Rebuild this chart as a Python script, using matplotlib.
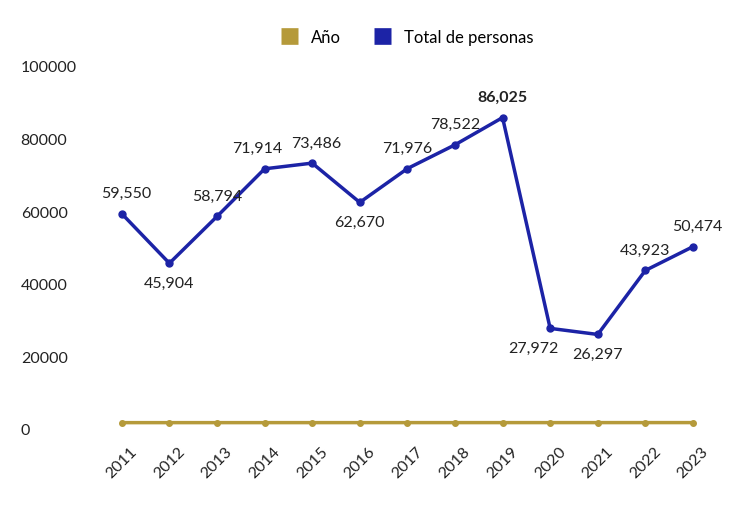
import matplotlib.pyplot as plt

years = [2011, 2012, 2013, 2014, 2015, 2016, 2017, 2018, 2019, 2020, 2021, 2022, 2023]
total = [59550, 45904, 58794, 71914, 73486, 62670, 71976, 78522, 86025, 27972, 26297, 43923, 50474]
# label placement: True = above the point
above = [True, False, True, True, True, False, True, True, True, False, False, True, True]
dx = [3, 0, 0, -5, 3, 0, 0, 0, 0, -12, 0, 0, 3]

plt.rcParams['font.family'] = ['Lato', 'DejaVu Sans']

fig = plt.figure(figsize=(7.4, 5.08), dpi=100, facecolor='white')
ax = fig.add_axes([0.135, 0.134, 0.831, 0.748])

gold = '#B59A3A'
blue = '#1C23A6'
ax.plot(years, years, color=gold, lw=2.5, marker='o', ms=4, label='Año')
ax.plot(years, total, color=blue, lw=2.5, marker='o', ms=5, label='Total de personas')

for x, y, up, d in zip(years, total, above, dx):
    bold = y == max(total)
    ax.annotate(f'{y:,}', (x, y), xytext=(d, 9 if up else -10), textcoords='offset points',
                ha='center', va='bottom' if up else 'top', fontsize=11.5,
                fontweight='bold' if bold else 'normal', color='#222222')

ax.set_xlim(2010.54, 2023.46)
ax.set_ylim(-2750, 101900)
ax.set_xticks(years)
ax.set_xticklabels([str(y) for y in years], rotation=45, fontsize=11, color='#222222')
ax.set_yticks([0, 20000, 40000, 60000, 80000, 100000])
ax.tick_params(axis='both', length=0, labelsize=11.5, colors='#222222')
ax.tick_params(axis='y', pad=57)
for lab in ax.get_yticklabels():
    lab.set_horizontalalignment('left')
for s in ax.spines.values():
    s.set_visible(False)

ax.legend(loc='upper center', bbox_to_anchor=(0.5, 1.12), ncol=2, frameon=False,
          fontsize=12, handlelength=1.0, handleheight=1.0)
leg = ax.get_legend()
for h in leg.legend_handles:
    h.set_linewidth(12)
    h.set_solid_capstyle('butt')
    h.set_marker('')

fig.savefig('out.png', dpi=100, facecolor='white')
